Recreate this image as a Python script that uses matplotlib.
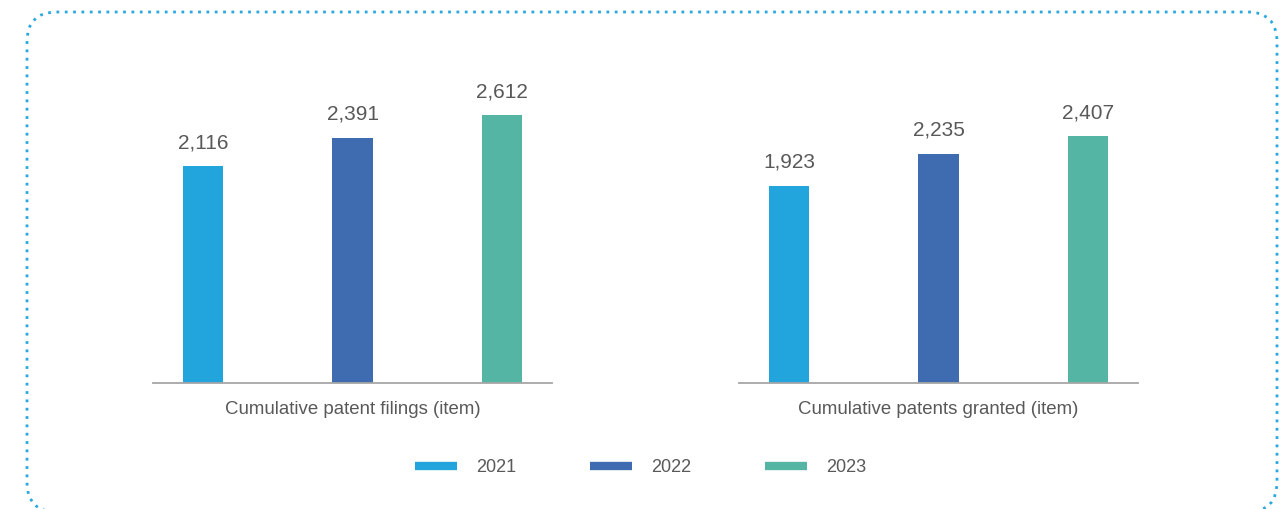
import matplotlib.pyplot as plt
from matplotlib.patches import FancyBboxPatch
from matplotlib.transforms import IdentityTransform

years = ['2021', '2022', '2023']
filings = [2116, 2391, 2612]
granted = [1923, 2235, 2407]
titles = ['Cumulative patent filings (item)', 'Cumulative patents granted (item)']
colors = ['#22a5dd', '#3f6bb1', '#54b5a4']
text_color = '#595959'

plt.rcParams['font.family'] = ['Liberation Sans', 'DejaVu Sans']

W, H = 1287, 509
fig = plt.figure(figsize=(W / 100, H / 100), dpi=100)

def draw_panel(left_px, values, title):
    ax = fig.add_axes([left_px / W, (H - 383) / H, 399 / W, 323 / H])
    x = range(len(values))
    bars = ax.bar(x, values, width=0.268, color=colors)
    for b, v in zip(bars, values):
        ax.annotate(f'{v:,}', (b.get_x() + b.get_width() / 2, v),
                    xytext=(0, 10), textcoords='offset points',
                    ha='center', va='bottom', fontsize=15, color=text_color)
    ax.set_xlim(-0.335, 2.335)
    ax.set_ylim(0, 3150)
    for s in ['top', 'right', 'left']:
        ax.spines[s].set_visible(False)
    ax.spines['bottom'].set_color('#a6a6a6')
    ax.spines['bottom'].set_linewidth(1.3)
    ax.set_xticks([])
    ax.set_yticks([])
    ax.set_xlabel(title, fontsize=13.4, color=text_color, labelpad=13)
    return bars

bars = draw_panel(153, filings, titles[0])
draw_panel(739, granted, titles[1])

# legend
for i, (yr, c) in enumerate(zip(years, colors)):
    x0 = 415 + i * 175
    fig.add_artist(plt.Line2D([x0 / W, (x0 + 42) / W], [(H - 466) / H] * 2,
                              color=c, lw=6, solid_capstyle='butt'))
    fig.text((x0 + 61) / W, (H - 467) / H, yr, fontsize=13, color=text_color,
             va='center', ha='left')

# dotted rounded frame
frame = FancyBboxPatch((27 + 30, H - 512 + 30), 1250 - 60, 500 - 60,
                       boxstyle='round,pad=30', transform=IdentityTransform(),
                       fill=False, edgecolor='#29a8e0', lw=2,
                       linestyle=(0, (1, 2)))
fig.add_artist(frame)

fig.savefig('out.png', dpi=100)
